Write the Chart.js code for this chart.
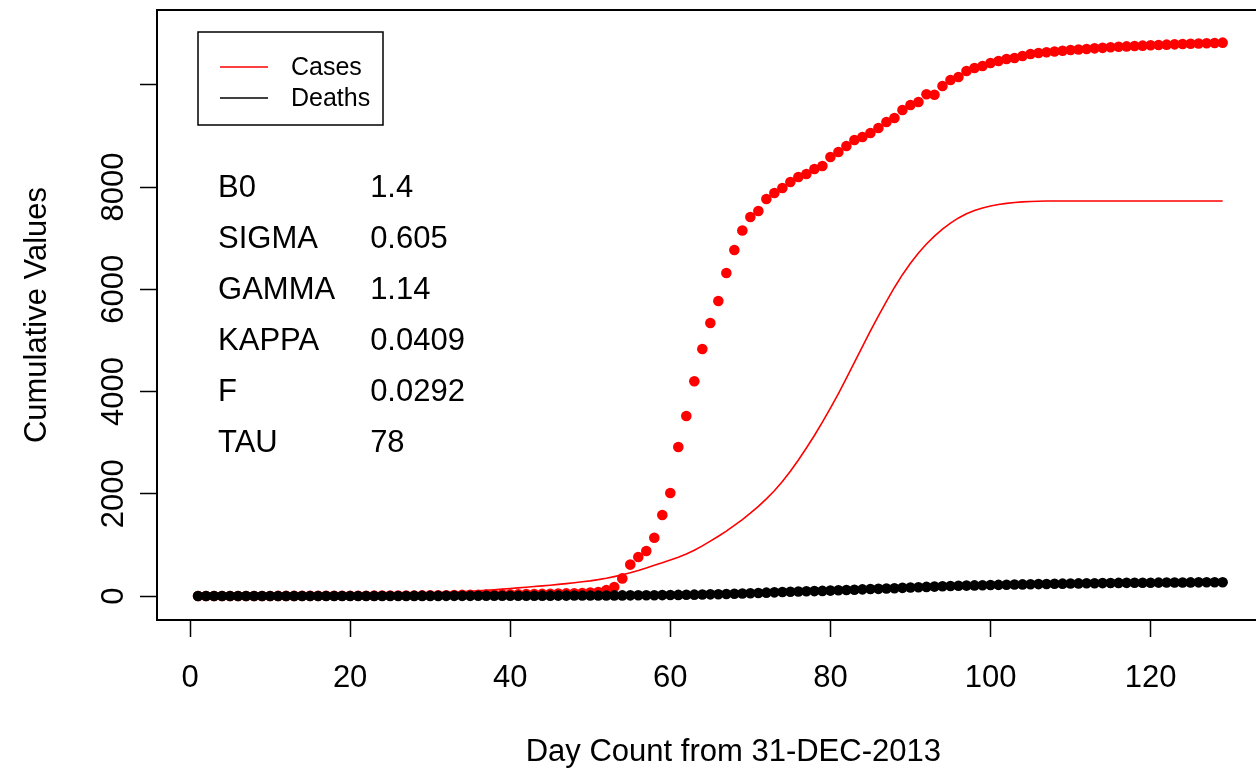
<!DOCTYPE html>
<html lang="en">
<head>
    <meta charset="UTF-8">
    <title>Cumulative Values</title>
    <script src="https://cdn.jsdelivr.net/npm/chart.js"></script>
    <style>
        html, body { margin: 0; padding: 0; background: #fff; overflow: hidden; }
        #fitChart { display: block; }
    </style>
</head>
<body>

<!-- the plot box runs past the right edge of the page, the window only shows its left part -->
<canvas id="fitChart" width="1315" height="771"></canvas>

<script>
  // observed cumulative cases, one value per day (day 1 .. 129)
  const caseCounts = [
    0, 0, 0, 0, 0, 0, 1, 1, 1, 1,
    2, 2, 2, 3, 3, 3, 4, 4, 5, 5,
    6, 6, 7, 8, 8, 9, 10, 11, 12, 13,
    14, 16, 20, 22, 24, 26, 28, 30, 32, 34,
    36, 38, 40, 42, 45, 48, 51, 55, 60, 68,
    80, 115, 176, 345, 615, 763, 880, 1140, 1584, 2015,
    2914, 3521, 4200, 4831, 5340, 5770, 6318, 6768, 7149, 7414,
    7531, 7765, 7883, 7980, 8098, 8196, 8254, 8352, 8411, 8587,
    8685, 8802, 8919, 8978, 9056, 9154, 9272, 9350, 9506, 9604,
    9663, 9815, 9805, 9976, 10093, 10152, 10269, 10328, 10367, 10425,
    10465, 10504, 10524, 10563, 10601, 10621, 10635, 10650, 10665, 10680,
    10690, 10700, 10712, 10722, 10732, 10742, 10750, 10758, 10765, 10772,
    10778, 10784, 10790, 10796, 10802, 10808, 10813, 10818, 10823
  ];

  // fitted model curve for cumulative cases
  const modelCases = [
    4, 4, 5, 5, 6, 6, 7, 7, 8, 9,
    10, 11, 12, 13, 14, 16, 17, 19, 21, 23,
    25, 28, 30, 33, 37, 40, 44, 49, 53, 58,
    64, 70, 77, 84, 92, 101, 111, 122, 134, 147,
    160, 172, 185, 198, 212, 227, 243, 260, 278, 297,
    320, 348, 380, 415, 455, 500, 550, 600, 650, 705,
    760, 822, 895, 980, 1075, 1170, 1270, 1380, 1495, 1620,
    1755, 1900, 2060, 2240, 2440, 2660, 2895, 3140, 3400, 3675,
    3960, 4260, 4570, 4880, 5185, 5480, 5765, 6035, 6285, 6510,
    6710, 6885, 7040, 7175, 7295, 7395, 7475, 7540, 7590, 7628,
    7658, 7680, 7697, 7709, 7717, 7722, 7725, 7725, 7725, 7725,
    7725, 7725, 7725, 7725, 7725, 7725, 7725, 7725, 7725, 7725,
    7725, 7725, 7725, 7725, 7725, 7725, 7725, 7725, 7725
  ];

  // observed cumulative deaths
  const deathCounts = [
    0, 0, 0, 0, 0, 0, 0, 0, 0, 0,
    0, 0, 0, 0, 0, 0, 0, 0, 0, 0,
    0, 0, 0, 1, 1, 1, 1, 2, 2, 2,
    2, 3, 3, 3, 3, 4, 4, 4, 5, 5,
    5, 6, 6, 7, 7, 8, 8, 9, 9, 10,
    10, 11, 12, 12, 13, 14, 15, 16, 18, 20,
    22, 24, 27, 30, 33, 36, 40, 45, 50, 55,
    60, 66, 72, 78, 84, 88, 92, 96, 100, 106,
    112, 118, 124, 130, 136, 140, 146, 152, 160, 166,
    172, 178, 184, 190, 196, 200, 204, 208, 212, 215,
    218, 221, 224, 227, 230, 233, 236, 239, 242, 245,
    247, 249, 251, 253, 255, 257, 258, 259, 260, 261,
    262, 263, 264, 265, 266, 267, 268, 269, 270
  ];

  const xTicks = [0, 20, 40, 60, 80, 100, 120];
  const yTicks = [0, 2000, 4000, 6000, 8000, 10000];
  const yTickLabels = ['0', '2000', '4000', '6000', '8000', ''];

  const legendLabels = ['Cases', 'Deaths'];
  const legendColors = ['#ff0000', '#000000'];

  // fitted parameters, listed down the left of the plot
  const paramNames = ['B0', 'SIGMA', 'GAMMA', 'KAPPA', 'F', 'TAU'];
  const paramValues = ['1.4', '0.605', '1.14', '0.0409', '0.0292', '78'];

  const toPoints = arr => arr.map((v, i) => ({ x: i + 1, y: v }));

  Chart.defaults.font.family = '"Liberation Sans", Arial, sans-serif';
  Chart.defaults.color = '#000';

  // top edge of the plot box (the axes draw the left and bottom edges)
  const frameTop = {
    id: 'frameTop',
    afterDraw(chart) {
      const { ctx, chartArea: a } = chart;
      ctx.save();
      ctx.strokeStyle = '#000';
      ctx.lineWidth = 2;
      ctx.beginPath();
      ctx.moveTo(a.left - 1, a.top);
      ctx.lineTo(a.right, a.top);
      ctx.stroke();
      ctx.restore();
    }
  };

  // boxed legend in the top-left corner of the plot
  const boxLegend = {
    id: 'boxLegend',
    afterDraw(chart) {
      const { ctx, chartArea: a } = chart;
      const left = a.left + 41, top = a.top + 22;
      ctx.save();
      ctx.strokeStyle = '#000';
      ctx.lineWidth = 1.5;
      ctx.strokeRect(left, top, 185, 93);
      ctx.font = '25px "Liberation Sans", Arial, sans-serif';
      ctx.textBaseline = 'middle';
      ctx.textAlign = 'left';
      legendLabels.forEach((label, i) => {
        const y = top + 35 + i * 31;
        ctx.strokeStyle = legendColors[i];
        ctx.lineWidth = 1.5;
        ctx.beginPath();
        ctx.moveTo(left + 22, y);
        ctx.lineTo(left + 70, y);
        ctx.stroke();
        ctx.fillStyle = '#000';
        ctx.fillText(label, left + 93, y + 1);
      });
      ctx.restore();
    }
  };

  // parameter table placed in data coordinates
  const paramText = {
    id: 'paramText',
    afterDraw(chart) {
      const { ctx, scales: { x, y } } = chart;
      ctx.save();
      ctx.font = '31px "Liberation Sans", Arial, sans-serif';
      ctx.fillStyle = '#000';
      ctx.textBaseline = 'middle';
      ctx.textAlign = 'left';
      paramNames.forEach((name, i) => {
        const py = y.getPixelForValue(8000 - i * 1000) + 1;
        ctx.fillText(name, x.getPixelForValue(3.5), py);
        ctx.fillText(paramValues[i], x.getPixelForValue(22.5), py);
      });
      ctx.restore();
    }
  };

  const ctx = document.getElementById('fitChart').getContext('2d');
  const fitChart = new Chart(ctx, {
    type: 'line',
    data: {
      datasets: [
        {
          label: 'Cases',
          data: toPoints(caseCounts),
          showLine: false,
          pointRadius: 5.3,
          pointBorderWidth: 0,
          pointBackgroundColor: '#ff0000',
          order: 2
        },
        {
          label: 'Model',
          data: toPoints(modelCases),
          borderColor: '#ff0000',
          borderWidth: 1.6,
          pointRadius: 0,
          tension: 0,
          order: 1
        },
        {
          label: 'Deaths',
          data: toPoints(deathCounts),
          showLine: false,
          pointRadius: 5.3,
          pointBorderWidth: 0,
          pointBackgroundColor: '#000000',
          order: 0
        }
      ]
    },
    options: {
      responsive: false,
      animation: false,
      events: [],
      layout: { padding: { left: 0, top: 10, right: 0, bottom: 0 } },
      plugins: {
        legend: { display: false },
        tooltip: { enabled: false }
      },
      scales: {
        x: {
          type: 'linear',
          min: -4.125,
          max: 139.875,
          afterBuildTicks: s => { s.ticks = xTicks.map(v => ({ value: v })); },
          afterFit: s => { s.height = 151; },
          grid: { drawOnChartArea: false, drawTicks: true, tickLength: 17, color: '#000', tickWidth: 1.5 },
          border: { display: true, color: '#000', width: 2 },
          ticks: { font: { size: 31 }, padding: 23, maxRotation: 0, autoSkip: false, color: '#000' },
          title: {
            display: true,
            text: 'Day Count from 31-DEC-2013',
            font: { size: 31 },
            color: '#000',
            padding: { top: 39, bottom: 0 }
          }
        },
        y: {
          type: 'linear',
          min: -469,
          max: 11462,
          afterBuildTicks: s => { s.ticks = yTicks.map(v => ({ value: v })); },
          afterFit: s => { s.width = 157; },
          grid: { drawOnChartArea: false, drawTicks: true, tickLength: 17, color: '#000', tickWidth: 1.5 },
          border: { display: true, color: '#000', width: 2 },
          ticks: {
            font: { size: 31 },
            color: '#000',
            minRotation: 90,
            maxRotation: 90,
            crossAlign: 'center',
            padding: -9,
            autoSkip: false,
            callback: (v, i) => yTickLabels[i]
          },
          title: {
            display: true,
            text: 'Cumulative Values',
            font: { size: 31 },
            color: '#000',
            padding: { top: 19, bottom: 22 }
          }
        }
      }
    },
    plugins: [frameTop, boxLegend, paramText]
  });
</script>

</body>
</html>
